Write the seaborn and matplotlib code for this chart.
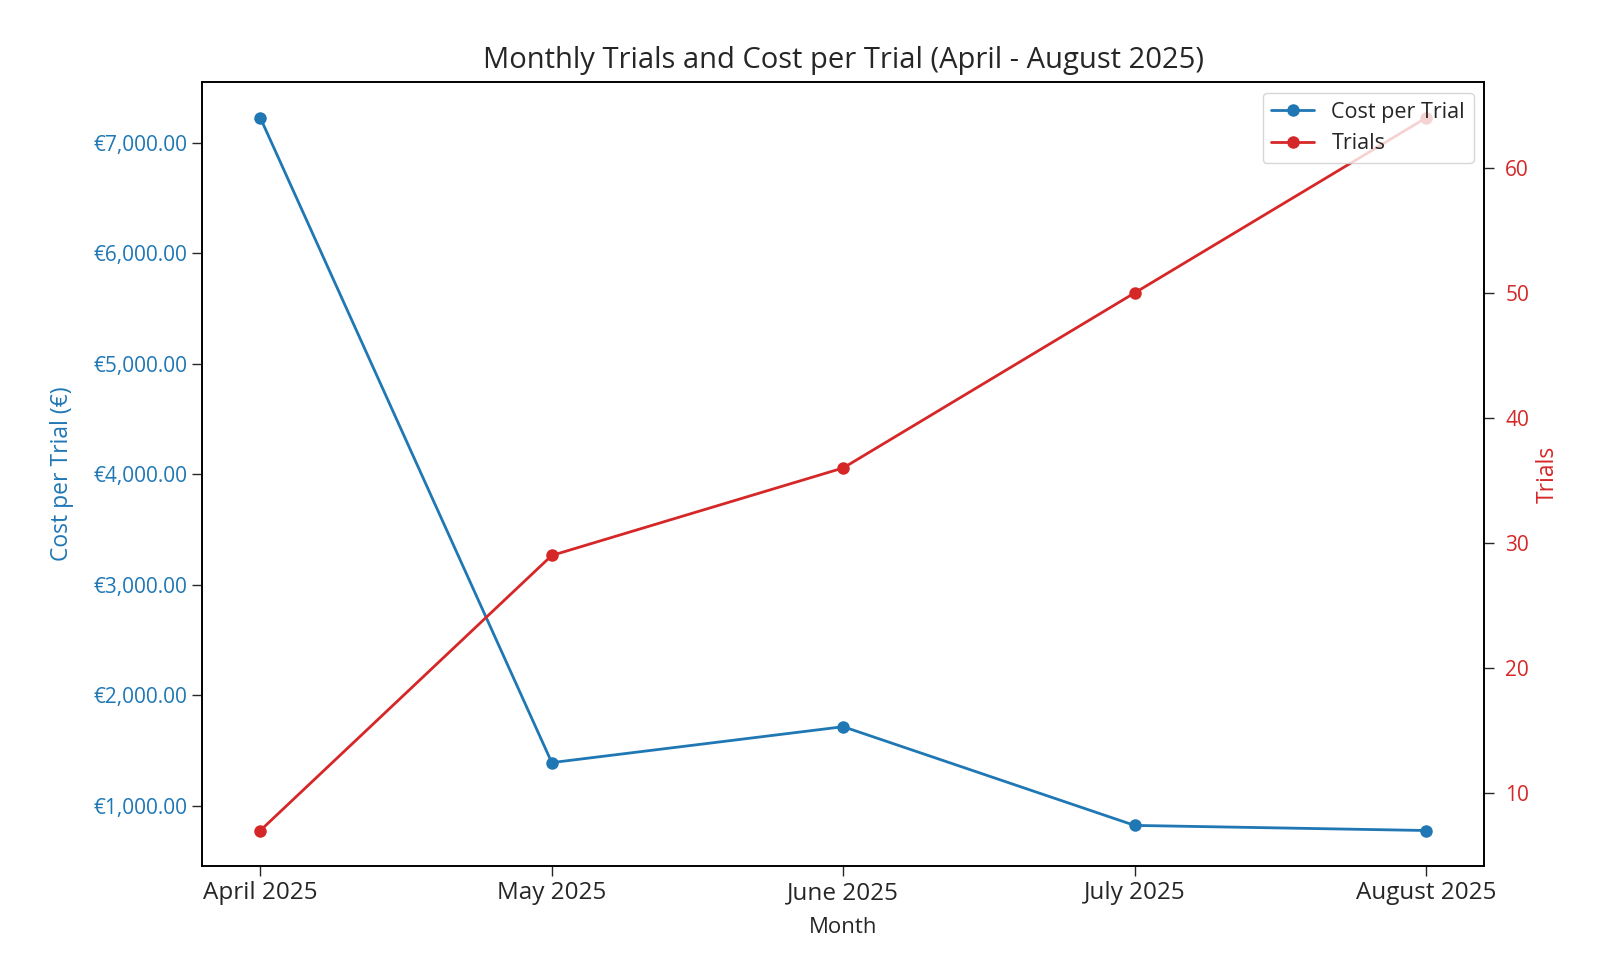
import matplotlib
matplotlib.use("Agg")
import matplotlib.pyplot as plt
import seaborn as sns
import pandas as pd
from matplotlib.ticker import FuncFormatter

months = ["April 2025", "May 2025", "June 2025", "July 2025", "August 2025"]
cost_per_trial = [7223, 1391, 1716, 823, 777]
trials = [7, 29, 36, 50, 64]

sns.set_style("white")
plt.rcParams['font.family'] = ['Open Sans', 'DejaVu Sans']

df = pd.DataFrame({"Month": months, "Cost per Trial": cost_per_trial, "Trials": trials})

fig = plt.figure(figsize=(16.1, 9.56), dpi=100)
ax1 = fig.add_axes([0.1255, 0.094, 0.7965, 0.82])
ax2 = ax1.twinx()

blue = "#1f77b4"
red = "#d62728"

sns.lineplot(data=df, x="Month", y="Cost per Trial", ax=ax1, color=blue, marker="o",
             markersize=9, markeredgewidth=0, linewidth=2, label="Cost per Trial", legend=False, sort=False)
sns.lineplot(data=df, x="Month", y="Trials", ax=ax2, color=red, marker="o",
             markersize=9, markeredgewidth=0, linewidth=2, label="Trials", legend=False, sort=False)

ax1.set_xlabel("Month", fontsize=16, labelpad=8)
ax1.set_ylabel("Cost per Trial (€)", fontsize=16.5, color=blue, labelpad=14)
ax2.set_ylabel("Trials", fontsize=16.5, color=red, labelpad=5)
ax1.set_title("Monthly Trials and Cost per Trial (April - August 2025)", fontsize=21, pad=10)

ax1.yaxis.set_major_formatter(FuncFormatter(lambda v, p: f"€{v:,.2f}"))
ax1.tick_params(axis="y", labelcolor=blue, labelsize=15, length=7, width=1, left=True)
ax2.tick_params(axis="y", labelcolor=red, labelsize=15, length=7, width=1, right=True, pad=8)
ax1.tick_params(axis="x", labelsize=17.5, length=7, width=1, bottom=True, pad=4)

for ax in (ax1, ax2):
    for s in ax.spines.values():
        s.set_color("black")
        s.set_linewidth(1.2)

h1, l1 = ax1.get_legend_handles_labels()
h2, l2 = ax2.get_legend_handles_labels()
ax2.legend(h1 + h2, l1 + l2, loc="upper right", fontsize=15.5)

fig.savefig("out.png", dpi=100)
